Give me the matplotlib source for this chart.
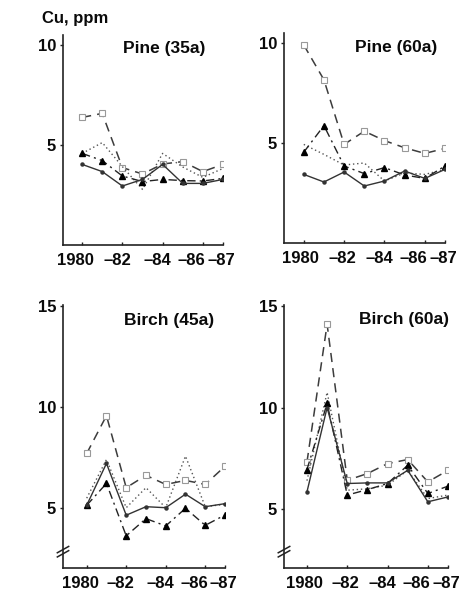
import numpy as np
import matplotlib
matplotlib.use("Agg")
import matplotlib.pyplot as plt
from matplotlib.transforms import ScaledTranslation

plt.rcParams['font.family'] = ['Liberation Sans', 'DejaVu Sans']

# Data (Cu, ppm)
years = [1980, 1981, 1982, 1983, 1984, 1985, 1986, 1987]
tick_years = [1980, 1982, 1984, 1986, 1987]
tick_labels = ["1980", "–82", "–84", "–86", "–87"]

titles = ["Pine (35a)", "Pine (60a)", "Birch (45a)", "Birch (60a)"]

solid = [
    [4.03, 3.67, 2.95, 3.28, 4.03, 3.08, 3.08, 3.28],
    [3.43, 3.05, 3.55, 2.85, 3.10, 3.60, 3.23, 3.68],
    [5.15, 7.22, 4.66, 5.08, 5.03, 5.70, 5.08, 5.23],
    [5.85, 10.0, 6.26, 6.29, 6.29, 6.91, 5.36, 5.60],
]
dotted = [
    [4.58, 5.12, 3.92, 2.78, 4.58, 3.90, 3.38, 3.83],
    [4.93, 4.43, 3.90, 4.00, 3.10, 3.50, 3.43, 3.68],
    [5.50, 7.41, 5.03, 6.02, 5.03, 7.58, 5.08, 5.20],
    [6.40, 10.75, 5.93, 6.00, 6.18, 6.91, 5.52, 5.69],
]
dashdot_tri = [
    [4.58, 4.22, 3.45, 3.17, 3.28, 3.22, 3.20, 3.33],
    [4.54, 5.87, 3.85, 3.47, 3.77, 3.40, 3.23, 3.85],
    [5.15, 6.23, 3.64, 4.49, 4.13, 5.00, 4.16, 4.67],
    [6.95, 10.2, 5.69, 5.96, 6.26, 7.16, 5.77, 6.13],
]
dashed_sq = [
    [6.38, 6.58, 3.87, 3.55, 4.05, 4.17, 3.67, 4.03],
    [9.90, 8.16, 4.93, 5.59, 5.12, 4.76, 4.48, 4.73],
    [7.71, 9.58, 6.02, 6.63, 6.18, 6.38, 6.18, 7.08],
    [7.32, 14.1, 6.42, 6.75, 7.24, 7.44, 6.34, 6.91],
]

W, H = 462, 592
fig = plt.figure(figsize=(W / 100, H / 100), dpi=100)

# axes boxes in pixels: left, right, top, bottom
boxes = [(63, 223, 35, 245), (284, 445, 33, 243),
         (63, 225, 305, 568), (284, 448, 305, 568)]
xlims = [(1979.05, 1987), (1979.02, 1987), (1978.8, 1987), (1978.86, 1987)]
ylims = [(0, 10.5), (0, 10.5), (2.05, 15.05), (2.1, 15.05)]
yticks = [[5, 10], [5, 10], [5, 10, 15], [5, 10, 15]]
title_pos = [(0.63, 0.938), (0.696, 0.932), (0.654, 0.940), (0.732, 0.946)]
# hand-set horizontal shift of the year labels (pixels)
label_shift = [[-6.5, -5, -5.5, -11, -2], [-3, -2, -5, -11, -1.5],
               [-6, -6, -5, -11, -2], [-3, -2, -5, -11, -1.5]]

ink = "#222222"
txt = "#0a0a0a"

for i in range(4):
    l, r, t, b = boxes[i]
    ax = fig.add_axes([l / W, 1 - b / H, (r - l) / W, (b - t) / H])
    ax.plot(years, dashed_sq[i], color="#3c3c3c", lw=1.1, ls=(0, (6, 4)),
            marker="s", ms=4, mfc="white", mec="#999999", mew=0.8)
    ax.plot(years, dotted[i], color="#555555", lw=1.0, ls=(0, (1, 2)))
    ax.plot(years, dashdot_tri[i], color=ink, lw=1.0, ls=(0, (6, 3, 1.5, 3)),
            marker="^", ms=4.5, mfc="black", mec="black")
    ax.plot(years, solid[i], color="#333333", lw=1.0, ls="-",
            marker="o", ms=2.2, mfc="#333333", mec="#333333")

    ax.set_xlim(*xlims[i])
    ax.set_ylim(*ylims[i])
    ax.set_xticks(tick_years)
    ax.set_xticklabels(tick_labels)
    ax.set_yticks(yticks[i])
    for s in ["top", "right"]:
        ax.spines[s].set_visible(False)
    for s in ["left", "bottom"]:
        ax.spines[s].set_linewidth(1.2)
        ax.spines[s].set_color(ink)
    ax.tick_params(axis="x", direction="in", length=2.5, width=1.0, colors=ink,
                   labelsize=12, labelcolor=txt, pad=5.5)
    ax.tick_params(axis="y", direction="out", length=2.5, width=1.0, colors=ink,
                   labelsize=12, labelcolor=txt, pad=2.5)
    for lab in ax.get_xticklabels() + ax.get_yticklabels():
        lab.set_fontweight("bold")
    for lab, dx in zip(ax.get_xticklabels(), label_shift[i]):
        lab.set_transform(lab.get_transform() +
                          ScaledTranslation(dx / 100, 0, fig.dpi_scale_trans))
    ax.text(title_pos[i][0], title_pos[i][1], titles[i], transform=ax.transAxes,
            ha="center", va="center", fontsize=12.5, fontweight="bold",
            color=txt)

    if i >= 2:
        # axis break marks
        yb = 0.062
        for dy in (-0.008, 0.008):
            ax.plot([-0.035, 0.035], [yb + dy - 0.012, yb + dy + 0.012],
                    transform=ax.transAxes, color=ink, lw=1.1, clip_on=False)

fig.text(42 / W, 1 - 19 / H, "Cu, ppm", ha="left", va="center",
         fontsize=12, fontweight="bold", color=txt)

fig.savefig("out.png", dpi=100)
